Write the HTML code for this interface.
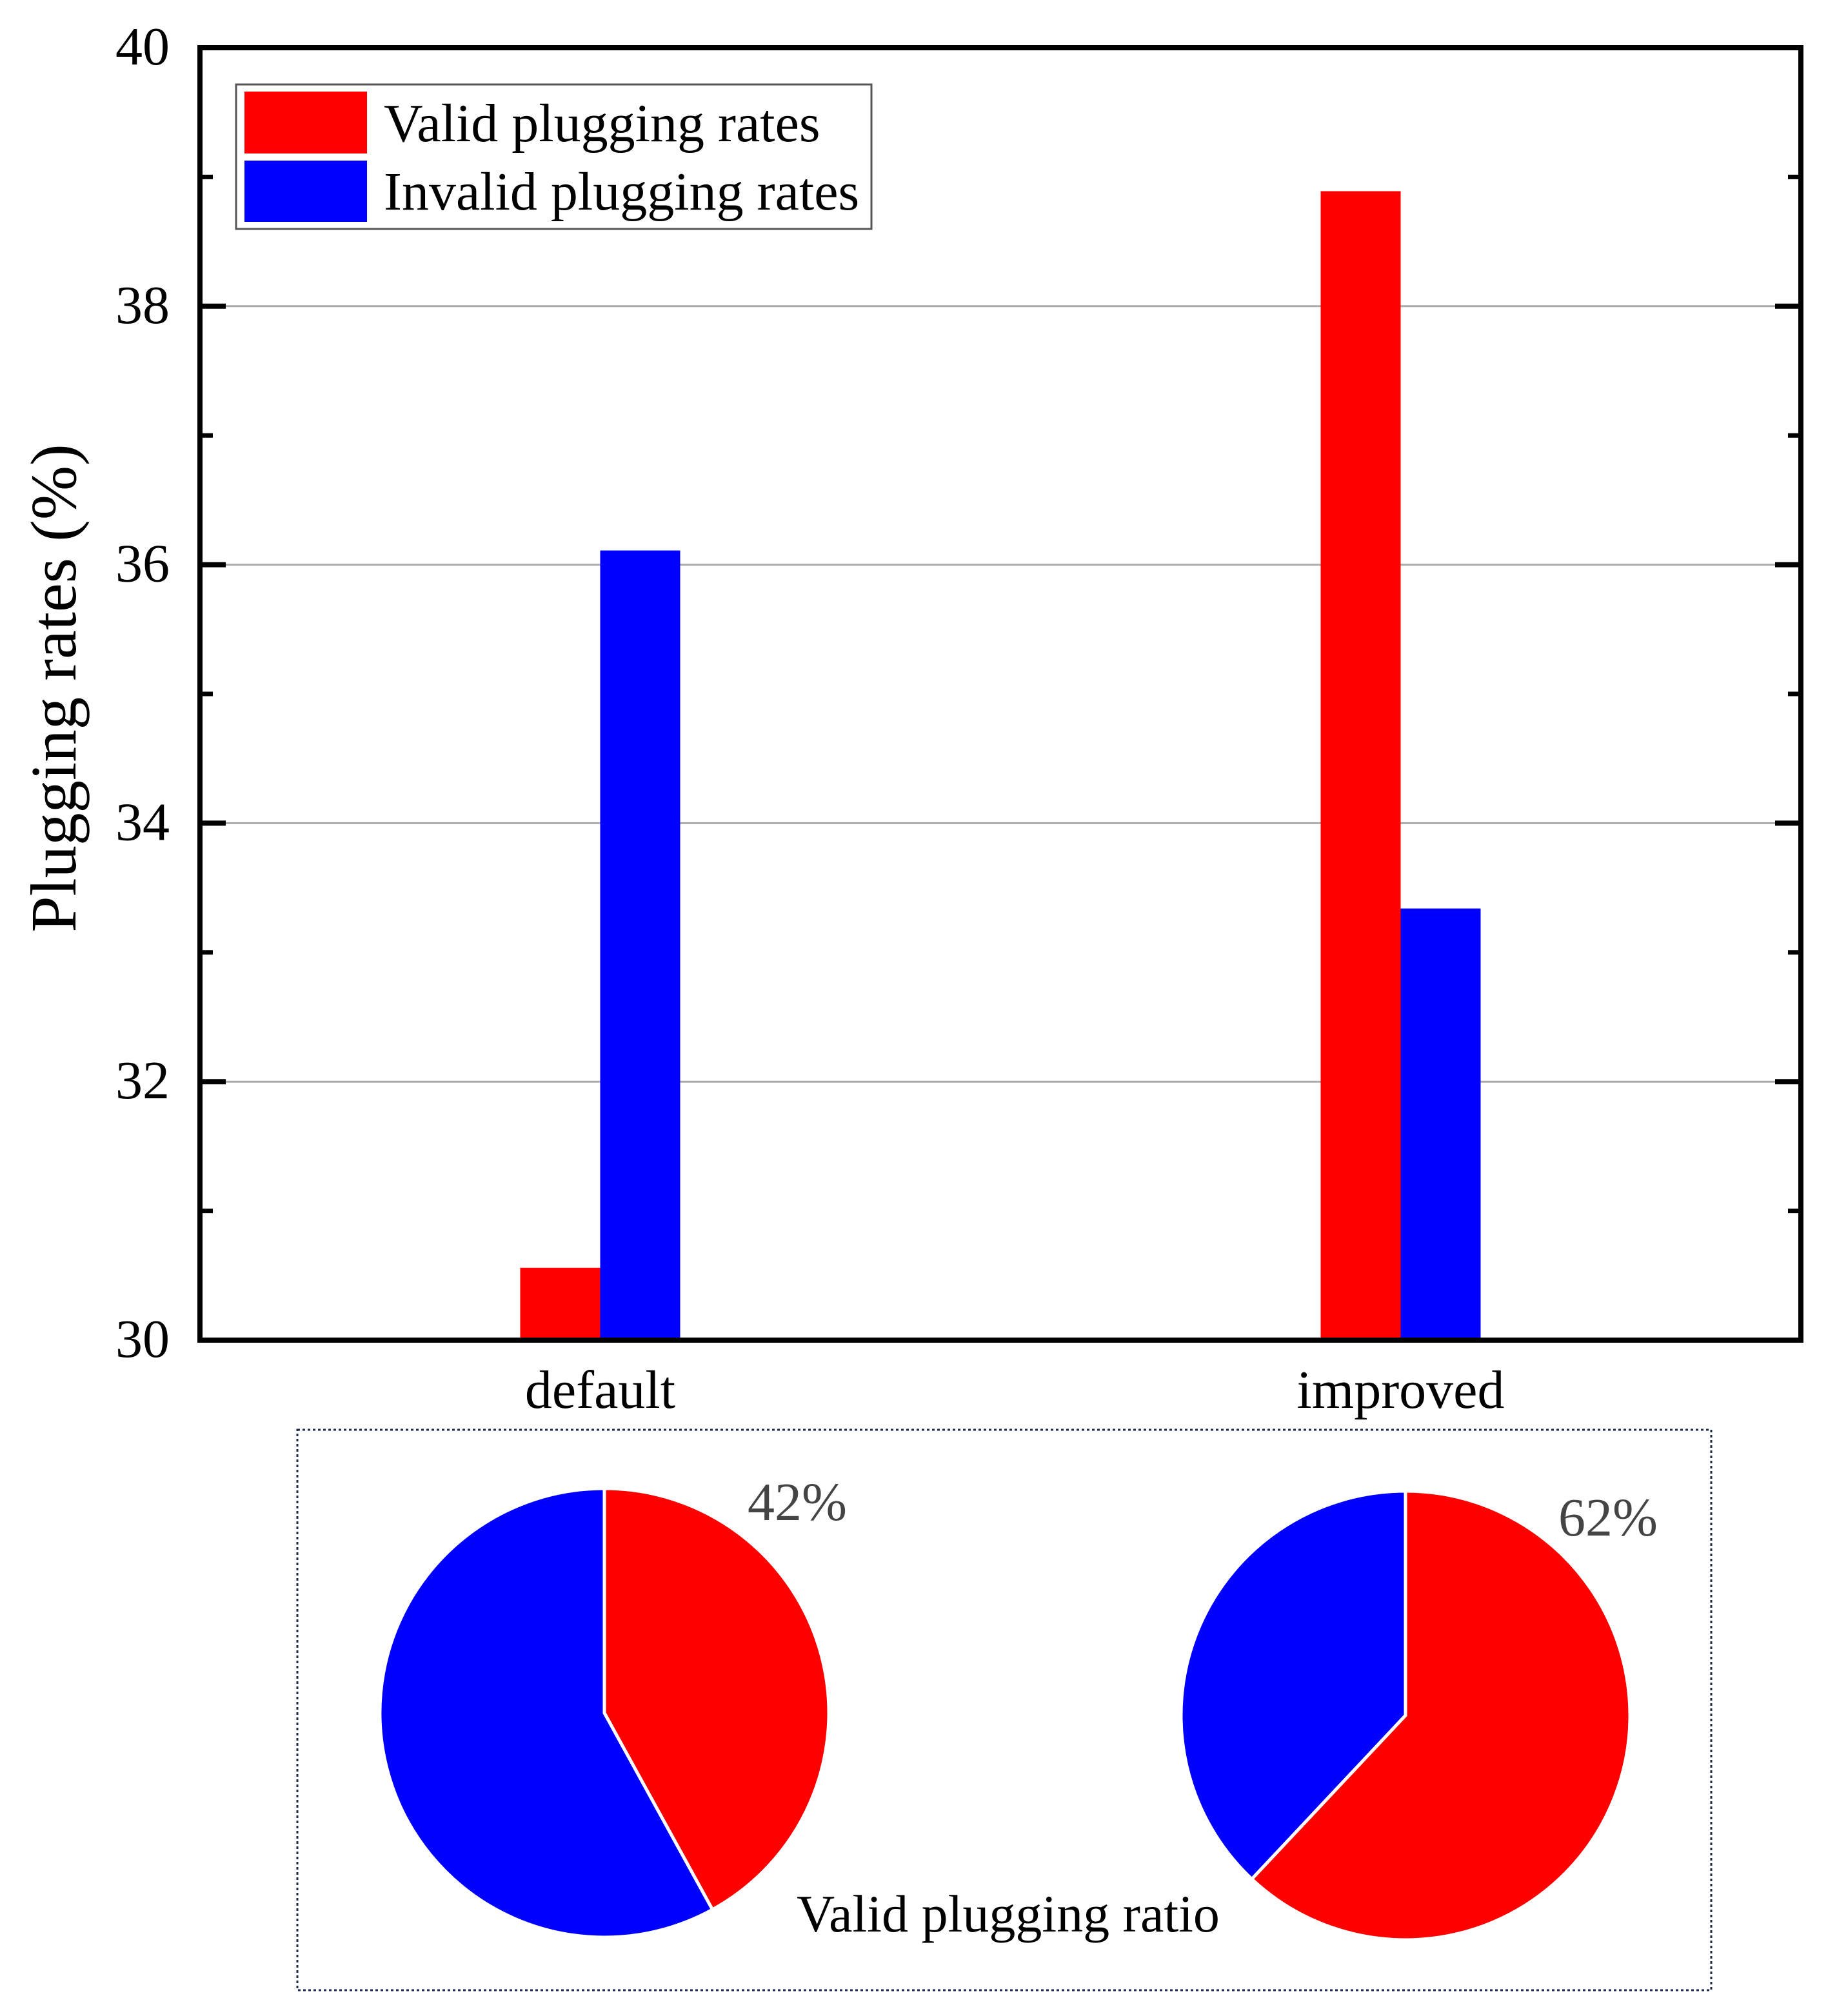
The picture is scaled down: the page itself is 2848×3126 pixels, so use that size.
<!DOCTYPE html>
<html><head><meta charset="utf-8"><style>
html,body{margin:0;padding:0;background:#fff}
svg{display:block}
text{font-family:"Liberation Serif",serif}
</style></head><body>
<svg id="chart" width="2848" height="3126" viewBox="0 0 2848 3126" xmlns="http://www.w3.org/2000/svg">
<g id="grid"></g>
<g id="bars"></g>
<rect x="310" y="74" width="2482" height="2004" fill="none" stroke="#000" stroke-width="8"/>
<g id="ticks"></g>
<g id="xlabels"></g>
<text x="117" y="1067" font-size="101" text-anchor="middle" transform="rotate(-90 117 1067)">Plugging rates (%)</text>
<g>
<rect x="366" y="131" width="985" height="224" fill="#fff" stroke="#555" stroke-width="3"/>
<rect x="379" y="142" width="190" height="96" fill="#ff0000"/>
<text x="595" y="219" font-size="84">Valid plugging rates</text>
<rect x="379" y="249" width="190" height="95" fill="#0000ff"/>
<text x="595" y="325" font-size="84">Invalid plugging rates</text>
</g>
<rect x="461" y="2217" width="2192" height="869" fill="none" stroke="#1a2a4a" stroke-width="3" stroke-dasharray="4 4"/>
<g id="pies"></g>
<text x="1235" y="2995" font-size="82">Valid plugging ratio</text>
</svg>
<script>
const categories = ["default", "improved"];
const validRates = [30.56, 38.89];
const invalidRates = [36.11, 33.34];
const yTicks = [30, 32, 34, 36, 38, 40];
const yMinorTicks = [31, 33, 35, 37, 39];
const pieValidPct = [42, 62];
const pieLabels = ["42%", "62%"];

const NS = "http://www.w3.org/2000/svg";
const X0 = 310, X1 = 2792, Y0 = 2078, Y1 = 74, YMIN = 30, YMAX = 40;
const yScale = v => Y0 - (v - YMIN) / (YMAX - YMIN) * (Y0 - Y1);
const xBand = i => X0 + (X1 - X0) * (i + 0.5) / categories.length;
const BW = 124;
function mk(tag, attrs, parent) {
  const e = document.createElementNS(NS, tag);
  for (const k in attrs) e.setAttribute(k, attrs[k]);
  parent.appendChild(e);
  return e;
}
const grid = document.getElementById('grid');
const ticks = document.getElementById('ticks');
yTicks.forEach(t => {
  const y = yScale(t);
  if (t !== YMIN && t !== YMAX) {
    const g = mk('line', {x1: X0, x2: X1, y1: y, y2: y, stroke: '#aaa', 'stroke-width': 3}, grid);
    
    
  }
  const l = mk('line', {x1: X0, x2: X0 + 40, y1: y, y2: y, stroke: '#000', 'stroke-width': 8}, ticks);
  
  
  const r = mk('line', {x1: X1 - 40, x2: X1, y1: y, y2: y, stroke: '#000', 'stroke-width': 8}, ticks);
  
  
  const tx = mk('text', {x: 263, y: y + 26, 'font-size': 84, 'text-anchor': 'end'}, ticks);
  tx.textContent = t;
  
  
});
yMinorTicks.forEach(t => {
  const y = yScale(t);
  const l = mk('line', {x1: X0, x2: X0 + 20, y1: y, y2: y, stroke: '#000', 'stroke-width': 7}, ticks);
  
  
  const r = mk('line', {x1: X1 - 20, x2: X1, y1: y, y2: y, stroke: '#000', 'stroke-width': 7}, ticks);
  
  
});
const bars = document.getElementById('bars');
const xl = document.getElementById('xlabels');
categories.forEach((c, i) => {
  const cx = xBand(i);
  const yv = yScale(validRates[i]);
  const b1 = mk('rect', {x: cx - BW, y: yv, width: BW, height: Y0 - yv, fill: '#ff0000'}, bars);
  
  
  const yi = yScale(invalidRates[i]);
  const b2 = mk('rect', {x: cx, y: yi, width: BW, height: Y0 - yi, fill: '#0000ff'}, bars);
  
  
  const t = mk('text', {x: cx, y: 2183, 'font-size': 84, 'text-anchor': 'middle'}, xl);
  t.textContent = c;
  
  
});
const pies = document.getElementById('pies');
const pieCenters = [[937, 2656], [2179, 2660]];
const labelPos = [[1159, 2357], [2416, 2381]];
const R = 348;
pieValidPct.forEach((p, i) => {
  const [cx, cy] = pieCenters[i];
  const a = p / 100 * 2 * Math.PI;
  const ex = cx + R * Math.sin(a), ey = cy - R * Math.cos(a);
  const large = p > 50 ? 1 : 0;
  const blue = mk('path', {d: `M${cx},${cy} L${ex},${ey} A${R},${R} 0 ${1 - large} 1 ${cx},${cy - R} Z`, fill: '#0000ff', stroke: '#fff', 'stroke-width': 5}, pies);
  
  
  const red = mk('path', {d: `M${cx},${cy} L${cx},${cy - R} A${R},${R} 0 ${large} 1 ${ex},${ey} Z`, fill: '#ff0000', stroke: '#fff', 'stroke-width': 5}, pies);
  
  
  const t = mk('text', {x: labelPos[i][0], y: labelPos[i][1], 'font-size': 84, fill: '#444'}, pies);
  t.textContent = pieLabels[i];
  
  
});
</script>
</body></html>
